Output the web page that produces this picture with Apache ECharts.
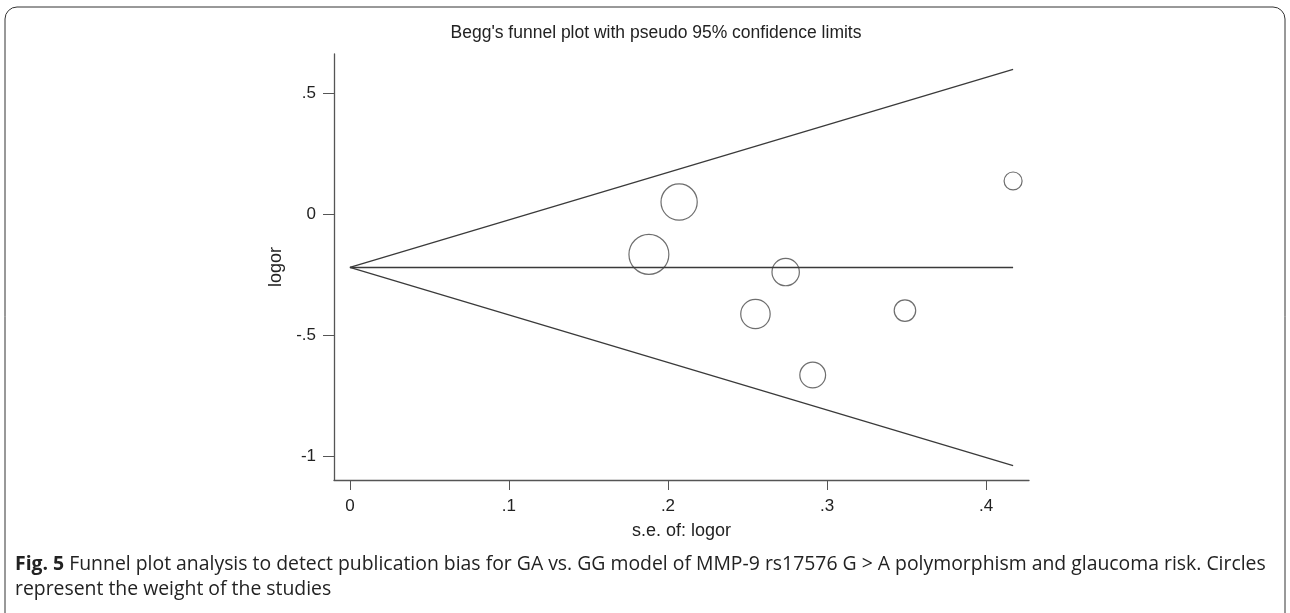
<!DOCTYPE html>
<html>
<head>
<meta charset="utf-8">
<script src="https://cdn.jsdelivr.net/npm/echarts@6/dist/echarts.min.js"></script>
<style>
  html, body { margin: 0; padding: 0; background: #fff; }
  #chart { width: 1290px; height: 613px; }
</style>
</head>
<body>
<div id="chart"></div>
<script>
// studies: standard error and log odds ratio
const seLogor = [0.188, 0.207, 0.255, 0.274, 0.291, 0.349, 0.417]
const logor = [-0.165, 0.051, -0.411, -0.238, -0.663, -0.397, 0.138]

// pseudo 95% confidence limits (end points of the funnel lines)
const funnelSe = [0, 0.417]
const upperLimit = [-0.219, 0.599]
const lowerLimit = [-0.219, -1.037]
const pooledLine = [-0.219, -0.219]

const xTicks = [0, 0.1, 0.2, 0.3, 0.4]
const yTicks = [-1, -0.5, 0, 0.5]

const stataNum = (v) => (v === 0 ? '0' : String(v).replace('0.', '.'))
const toPairs = (xs, ys) => xs.map((x, i) => [x, ys[i]])

const lineStyle = { color: '#3a3a3a', width: 1.3 }
const axisGrey = '#555'
const font = 'Liberation Sans, Arial, sans-serif'

const chart = echarts.init(document.getElementById('chart'))
chart.setOption({
  animation: false,
  backgroundColor: '#fff',
  title: {
    text: "Begg's funnel plot with pseudo 95% confidence limits",
    left: 651,
    top: 19,
    textAlign: 'center',
    textStyle: { fontFamily: font, fontSize: 17.5, fontWeight: 'normal', color: '#222' },
  },
  grid: { left: 334, right: 261, top: 54, bottom: 133 },
  xAxis: {
    type: 'value',
    min: -0.01,
    max: 0.427,
    name: 's.e. of: logor',
    nameLocation: 'middle',
    nameGap: 42,
    nameTextStyle: { fontFamily: font, fontSize: 18, color: '#222' },
    axisLine: { onZero: false, lineStyle: { color: axisGrey, width: 1.3 } },
    axisTick: { show: true, length: 10, customValues: xTicks, lineStyle: { color: axisGrey } },
    axisLabel: {
      customValues: xTicks,
      margin: 18,
      formatter: stataNum,
      fontFamily: font,
      fontSize: 17,
      color: '#222',
    },
    splitLine: { show: false },
  },
  yAxis: {
    type: 'value',
    min: -1.096,
    max: 0.662,
    name: 'logor',
    nameLocation: 'middle',
    nameGap: 43,
    nameTextStyle: { fontFamily: font, fontSize: 18, color: '#222' },
    axisLine: { show: true, onZero: false, lineStyle: { color: axisGrey, width: 1.3 } },
    axisTick: { show: true, length: 11, customValues: yTicks, lineStyle: { color: axisGrey } },
    axisLabel: {
      customValues: yTicks,
      margin: 18,
      formatter: stataNum,
      fontFamily: font,
      fontSize: 17,
      color: '#222',
    },
    splitLine: { show: false },
  },
  series: [
    {
      type: 'line',
      data: toPairs(funnelSe, upperLimit),
      symbol: 'none',
      lineStyle: lineStyle,
      silent: true,
    },
    {
      type: 'line',
      data: toPairs(funnelSe, lowerLimit),
      symbol: 'none',
      lineStyle: lineStyle,
      silent: true,
    },
    {
      type: 'line',
      data: toPairs(funnelSe, pooledLine),
      symbol: 'none',
      lineStyle: lineStyle,
      silent: true,
    },
    {
      type: 'scatter',
      data: toPairs(seLogor, logor),
      // circle area proportional to study weight (1/se^2)
      symbolSize: (v) => 7.5 / v[0],
      itemStyle: { color: 'rgba(0,0,0,0)', borderColor: '#4a4a4a', borderWidth: 1.2 },
    },
  ],
  graphic: [
    {
      type: 'rect',
      shape: { x: 5, y: 7, width: 1280, height: 640, r: 12 },
      style: { fill: null, stroke: '#333', lineWidth: 1 },
      silent: true,
    },
    {
      type: 'text',
      left: 15,
      top: 552,
      style: {
        text: '{b|Fig. 5} Funnel plot analysis to detect publication bias for GA vs. GG model of MMP-9 rs17576 G > A polymorphism and glaucoma risk. Circles\nrepresent the weight of the studies',
        font: '19.4px "Open Sans", sans-serif',
        fill: '#222',
        lineHeight: 25,
        rich: {
          b: { font: 'bold 19.4px "Open Sans", sans-serif', fill: '#222', lineHeight: 25 },
        },
      },
    },
  ],
})
</script>
</body>
</html>
